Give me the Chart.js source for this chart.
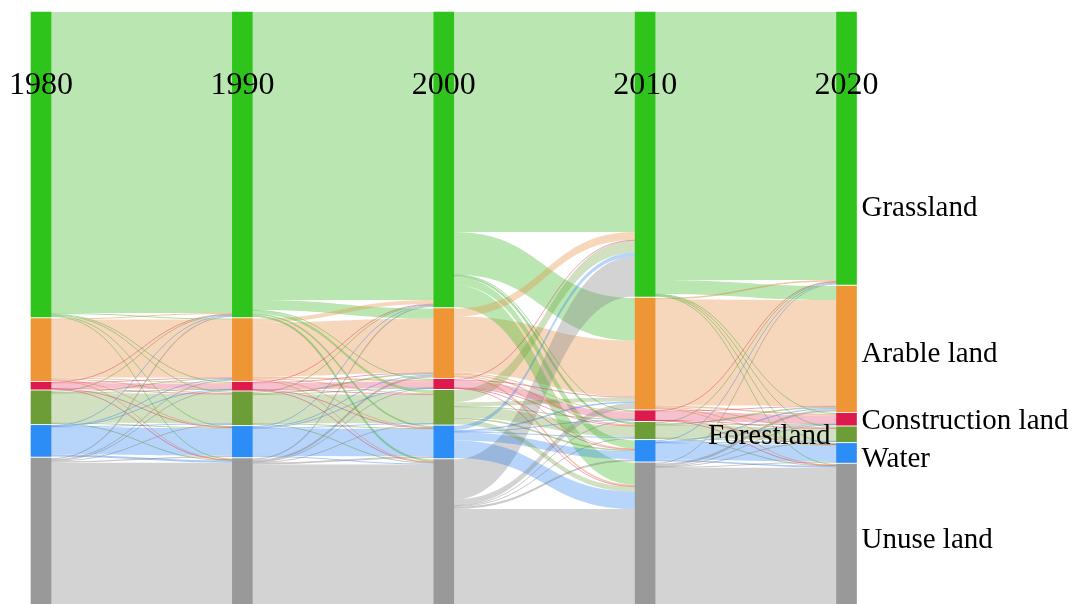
<!DOCTYPE html>
<html>
<head>
<meta charset="utf-8">
<script src="https://cdn.jsdelivr.net/npm/chart.js@4.4.0/dist/chart.umd.min.js"></script>
<style>
  html, body { margin: 0; padding: 0; background: #fff; }
  #landSankey { display: block; }
</style>
</head>
<body>
<canvas id="landSankey" width="1077" height="604"></canvas>
<script>
let years = ['1980', '1990', '2000', '2010', '2020'];
let landTypes = ['Grassland', 'Arable land', 'Construction land', 'Forestland', 'Water', 'Unuse land'];

// transfer matrices: row = land type at the start year, column = land type at the end year
let flows1980to1990 = [
  [301, 1, 0.5, 1, 0.5, 1],
  [1, 58, 1, 1, 0.5, 0.5],
  [0.3, 0.5, 5.5, 0.2, 0.3, 0.2],
  [1, 1, 0.3, 29.7, 0.5, 0.5],
  [0.5, 0.5, 0.2, 0.3, 27.5, 2],
  [1.2, 1, 0.5, 0.8, 1.2, 141.3],
];
let flows1990to2000 = [
  [288, 10, 0.5, 3, 1.5, 2],
  [4, 54, 1.5, 1, 0.7, 0.8],
  [0.3, 0.5, 6.5, 0.2, 0.3, 0.2],
  [1, 1.5, 0.3, 28.7, 0.5, 1],
  [0.5, 1, 0.2, 0.5, 27.3, 1],
  [1.2, 2, 0.5, 0.6, 1.7, 139.5],
];
let flows2000to2010 = [
  [220, 42.5, 0.5, 2, 8, 22],
  [8, 56, 1, 1.5, 1, 1.5],
  [0.5, 1, 7, 0.3, 0.3, 0.4],
  [12, 4, 0.5, 11, 1.5, 5],
  [4, 1.5, 0.5, 0.7, 8, 17.3],
  [40, 6, 0.5, 1, 2, 95],
];
let flows2010to2020 = [
  [268, 14, 0.5, 0.7, 0.5, 0.8],
  [1.5, 106, 1.5, 0.8, 0.6, 0.6],
  [0.2, 0.5, 8.8, 0.2, 0.1, 0.2],
  [1, 1.5, 0.3, 12.6, 0.5, 0.6],
  [0.8, 1.2, 0.3, 0.3, 16.8, 1.4],
  [1, 2.3, 0.6, 0.4, 0.6, 136.3],
];
let periodFlows = [flows1980to1990, flows1990to2000, flows2000to2010, flows2010to2020];

let nodeColors = ['#2fc41b', '#ee9535', '#dd1a4c', '#6c9d36', '#2b8df5', '#999999'];
let bandColors = ['rgba(60,185,40,0.36)', 'rgba(232,150,80,0.38)', 'rgba(225,50,95,0.3)',
                  'rgba(110,160,60,0.32)', 'rgba(45,130,240,0.34)', 'rgba(140,140,140,0.38)'];
let lineColors = ['rgba(60,170,40,0.42)', 'rgba(225,130,60,0.45)', 'rgba(220,30,80,0.4)',
                  'rgba(95,145,45,0.42)', 'rgba(45,120,235,0.4)', 'rgba(120,120,120,0.4)'];

const NODE_PAD = 1.6;
const NODE_WIDTH = 20;
const FONT = '"Liberation Serif", "Times New Roman", serif';

// label tweaks for the 2020 column
let labelShift = { 'Grassland': 58, 'Arable land': 3, 'Water': 4, 'Unuse land': 4 };
let labelsOnLeft = ['Forestland'];

function sumRow(m, i) {
  let s = 0;
  for (let k = 0; k < m[i].length; k++) s += m[i][k];
  return s;
}

function sumCol(m, k) {
  let s = 0;
  for (let i = 0; i < m.length; i++) s += m[i][k];
  return s;
}

// node sizes: first year from outgoing totals, later years from incoming totals
let nodeValues = [landTypes.map((_, i) => sumRow(periodFlows[0], i))];
periodFlows.forEach(m => nodeValues.push(landTypes.map((_, k) => sumCol(m, k))));

let nodeRanges = nodeValues.map(col => {
  let y = 0;
  return col.map(v => {
    let r = [y, y + v];
    y += v + NODE_PAD;
    return r;
  });
});
let total = Math.max(...nodeRanges.map(col => col[col.length - 1][1]));

function buildLinks() {
  let links = [];
  periodFlows.forEach((m, p) => {
    let srcOff = nodeRanges[p].map(r => r[0]);
    let dstOff = nodeRanges[p + 1].map(r => r[0]);
    let starts = m.map(row => row.map(() => 0));
    let ends = m.map(row => row.map(() => 0));
    for (let i = 0; i < m.length; i++) {
      for (let k = 0; k < m[i].length; k++) {
        starts[i][k] = srcOff[i];
        srcOff[i] += m[i][k];
      }
    }
    for (let k = 0; k < landTypes.length; k++) {
      for (let i = 0; i < m.length; i++) {
        ends[i][k] = dstOff[k];
        dstOff[k] += m[i][k];
      }
    }
    for (let i = 0; i < m.length; i++) {
      for (let k = 0; k < m[i].length; k++) {
        links.push({ p: p, from: i, value: m[i][k], s: starts[i][k], t: ends[i][k] });
      }
    }
  });
  // wide bands first so the thin lines stay visible
  links.sort((a, b) => b.value - a.value);
  return links;
}

let links = buildLinks();

let flowPlugin = {
  id: 'landFlows',
  beforeDatasetsDraw(chart) {
    let ctx = chart.ctx;
    let xs = chart.scales.x;
    let ys = chart.scales.y;
    ctx.save();
    links.forEach(l => {
      let x0 = xs.getPixelForValue(l.p) + NODE_WIDTH / 2;
      let x1 = xs.getPixelForValue(l.p + 1) - NODE_WIDTH / 2;
      let xm = (x0 + x1) / 2;
      let a0 = ys.getPixelForValue(l.s);
      let a1 = ys.getPixelForValue(l.s + l.value);
      let b0 = ys.getPixelForValue(l.t);
      let b1 = ys.getPixelForValue(l.t + l.value);
      let h = Math.abs(a1 - a0);
      if (h < 2.5) {
        let ya = (a0 + a1) / 2, yb = (b0 + b1) / 2;
        ctx.beginPath();
        ctx.moveTo(x0, ya);
        ctx.bezierCurveTo(xm, ya, xm, yb, x1, yb);
        ctx.lineWidth = Math.max(h, 1);
        ctx.strokeStyle = lineColors[l.from];
        ctx.stroke();
      } else {
        ctx.beginPath();
        ctx.moveTo(x0, a0);
        ctx.bezierCurveTo(xm, a0, xm, b0, x1, b0);
        ctx.lineTo(x1, b1);
        ctx.bezierCurveTo(xm, b1, xm, a1, x0, a1);
        ctx.closePath();
        ctx.fillStyle = bandColors[l.from];
        ctx.fill();
      }
    });
    ctx.restore();
  },
  afterDatasetsDraw(chart) {
    let ctx = chart.ctx;
    let xs = chart.scales.x;
    let ys = chart.scales.y;
    ctx.save();
    ctx.fillStyle = '#000';
    ctx.textBaseline = 'alphabetic';

    // year titles over each column
    ctx.font = '32px ' + FONT;
    ctx.textAlign = 'center';
    years.forEach((y, c) => ctx.fillText(y, xs.getPixelForValue(c), 94));

    // land type names beside the last column
    ctx.font = '29px ' + FONT;
    let last = years.length - 1;
    let xLast = xs.getPixelForValue(last);
    landTypes.forEach((name, k) => {
      let r = nodeRanges[last][k];
      let yMid = (ys.getPixelForValue(r[0]) + ys.getPixelForValue(r[1])) / 2;
      let y = yMid + 10 + (labelShift[name] || 0);
      if (labelsOnLeft.includes(name)) {
        ctx.textAlign = 'right';
        ctx.fillText(name, xLast - NODE_WIDTH / 2 - 6, y);
      } else {
        ctx.textAlign = 'left';
        ctx.fillText(name, xLast + NODE_WIDTH / 2 + 5, y);
      }
    });
    ctx.restore();
  },
};

function addSankey() {
  let ctx = document.getElementById('landSankey').getContext('2d');
  let datasets = landTypes.map((name, k) => ({
    label: name,
    data: nodeRanges.map(col => col[k]),
    backgroundColor: nodeColors[k],
    borderWidth: 0,
    barThickness: NODE_WIDTH,
    grouped: false,
    clip: false,
  }));
  return new Chart(ctx, {
    type: 'bar',
    data: { labels: years, datasets: datasets },
    options: {
      responsive: false,
      animation: false,
      devicePixelRatio: 1,
      layout: { padding: { left: 41, right: 230.5, top: 12, bottom: 0 } },
      scales: {
        x: { type: 'category', offset: false, display: false },
        y: { type: 'linear', min: 0, max: total, reverse: true, display: false },
      },
      plugins: {
        legend: { display: false },
        tooltip: { enabled: false },
      },
    },
    plugins: [flowPlugin],
  });
}

addSankey();
</script>
</body>
</html>
